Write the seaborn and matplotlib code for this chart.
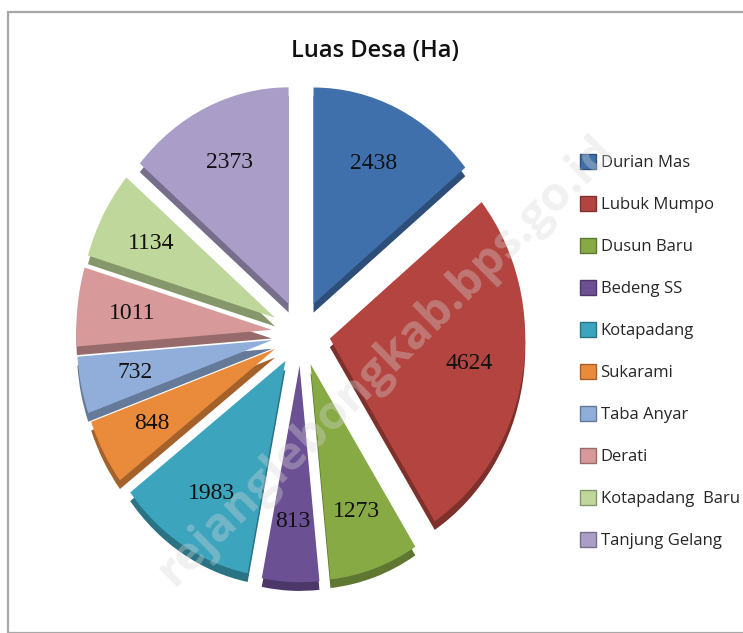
import numpy as np
import seaborn as sns
import matplotlib.pyplot as plt
from matplotlib.patches import Patch, Rectangle

sns.set_style("white")
plt.rcParams['font.family'] = ['Open Sans', 'DejaVu Sans']

# data
desa = ['Durian Mas', 'Lubuk Mumpo', 'Dusun Baru', 'Bedeng SS', 'Kotapadang',
        'Sukarami', 'Taba Anyar', 'Derati', 'Kotapadang  Baru', 'Tanjung Gelang']
luas = [2438, 4624, 1273, 813, 1983, 848, 732, 1011, 1134, 2373]
warna = ['#4070ab', '#b3443f', '#88aa45', '#6c5094', '#3ca4bd',
         '#ea8b3c', '#90aed9', '#d8999a', '#bfd79b', '#aa9dc7']

palette = sns.color_palette(warna)
gelap = [tuple(c * 0.7 for c in col) for col in palette]
total = sum(luas)
explode = [0.15] * len(luas)

fig = plt.figure(figsize=(7.43, 6.33), dpi=100)
fig.patches.append(Rectangle((0.011, 0.0), 0.995, 0.981, transform=fig.transFigure,
                             fill=False, edgecolor='#a8a8a8', linewidth=1.6))

ax = fig.add_axes([0.092, 0.063, 0.626, 0.814])

# bayangan / sisi tebal
ax.pie(luas, colors=gelap, startangle=90, counterclock=False, explode=explode,
       center=(0, -0.04), wedgeprops=dict(linewidth=0))
wedges, texts, autotexts = ax.pie(
    luas, colors=palette, startangle=90, counterclock=False, explode=explode,
    autopct=lambda p: f"{round(p * total / 100):d}", pctdistance=0.72,
    wedgeprops=dict(linewidth=0),
    textprops=dict(family=['Liberation Serif', 'DejaVu Serif'], fontsize=17, color='#111111'))
ax.set_aspect('auto')
ax.set_xlim(-1.19, 1.19)
ax.set_ylim(-1.2, 1.18)

fig.text(0.505, 0.92, 'Luas Desa (Ha)', ha='center', va='center',
         fontsize=17, fontweight='semibold', color='#111111')

handles = [Patch(facecolor=c, edgecolor=g, linewidth=1) for c, g in zip(palette, gelap)]
fig.legend(handles, desa, loc='center left', bbox_to_anchor=(0.76, 0.445),
           frameon=False, fontsize=12, handlelength=1.0, handleheight=1.0,
           handletextpad=0.25, labelspacing=1.49)

# watermark
fig.text(0.52, 0.43, 'rejanglebongkab.bps.go.id', rotation=44.5, ha='center', va='center',
         fontsize=34, fontweight='bold', color='#d8d8d8', alpha=0.35, zorder=10)

fig.savefig('out.png', dpi=100)
